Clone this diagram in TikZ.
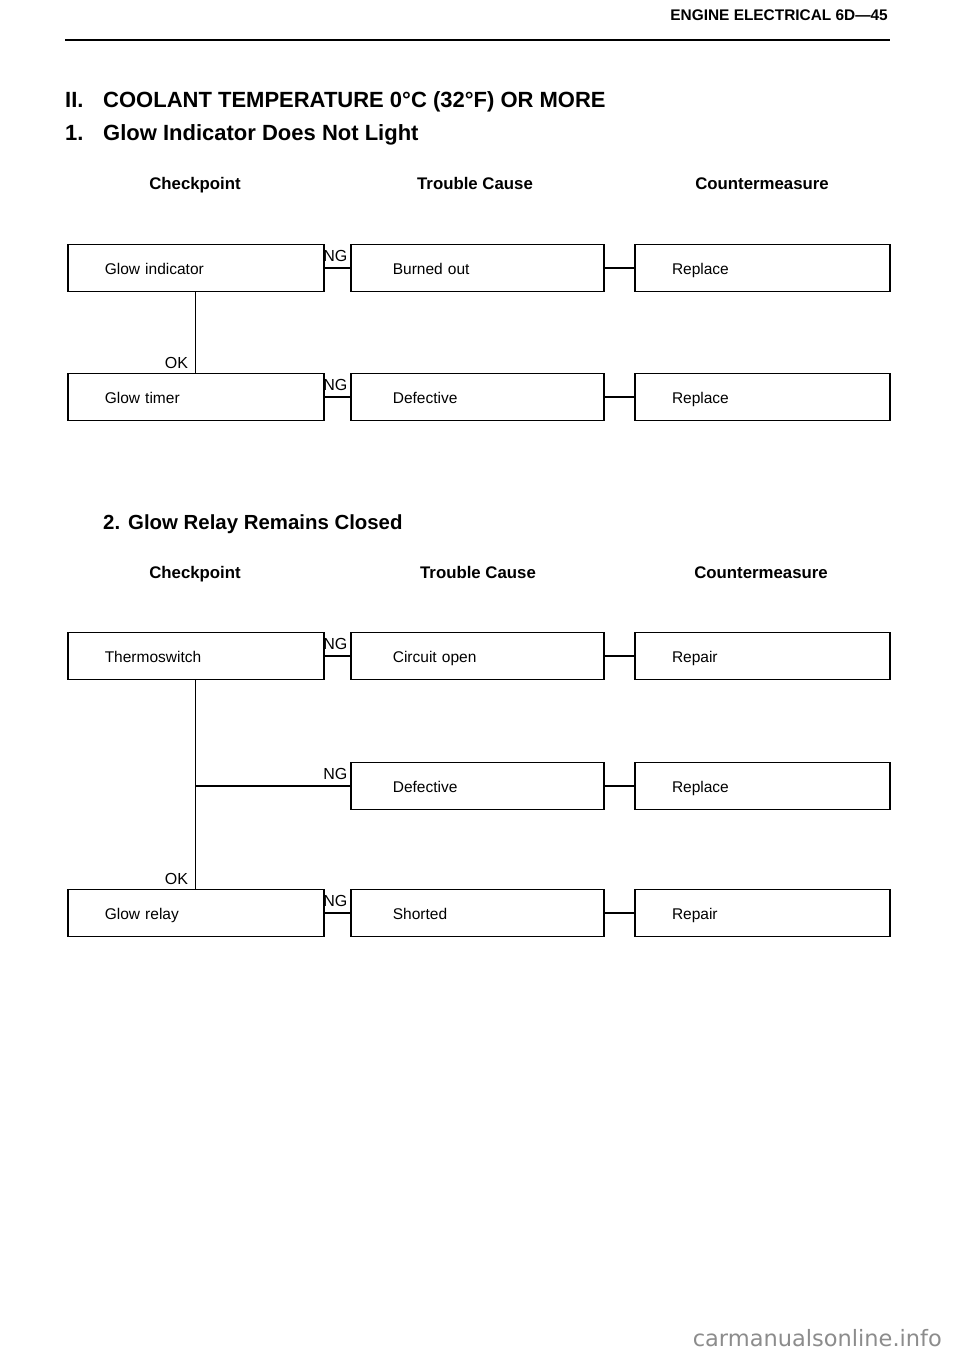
\documentclass[tikz,border=0pt]{standalone}
\usepackage{fontspec}
\setmainfont{Liberation Sans}
\newfontfamily\wmfont{DejaVu Sans}
\usetikzlibrary{calc}
\definecolor{wmgray}{HTML}{8C8C8C}
\tikzset{
  box/.style={draw, line width=1.7pt, minimum height=47pt, inner ysep=0pt, align=left,
    text height=15pt, text depth=3pt, font=\fontsize{15.5}{18}\selectfont},
  cola/.style={box, inner xsep=37pt, text width=182pt},
  colb/.style={box, inner xsep=42pt, text width=169pt},
  colc/.style={box, inner xsep=37pt, text width=181pt},
  link/.style={line width=1.3pt},
  tag/.style={font=\fontsize{16}{18}\selectfont, inner sep=0pt},
  colhead/.style={font=\bfseries\fontsize{16.8}{20}\selectfont, anchor=base, inner sep=0pt},
  titletext/.style={font=\bfseries\fontsize{22}{26}\selectfont, anchor=base west, inner sep=0pt},
}
\begin{document}
\begin{tikzpicture}[x=1pt,y=-1pt]
\useasboundingbox (0,0) rectangle (960,1356);

% page header
\node[font=\bfseries\fontsize{15.4}{18}\selectfont, anchor=base east, inner sep=0pt] (hdr) at (888,21) {ENGINE ELECTRICAL 6D—45};
\draw[line width=2.6pt] (65,40) -- (890,40);

% titles
\node[titletext] (t1n) at (65,108) {II.};
\node[titletext] (t1) at (103,108) {COOLANT TEMPERATURE 0°C (32°F) OR MORE};
\node[titletext] (t2n) at (65,141) {1.};
\node[titletext] (t2) at (103,141) {Glow Indicator Does Not Light};

% column heads section 1
\node[colhead] (h1a) at (195,190) {Checkpoint};
\node[colhead] (h1b) at (475,190) {Trouble Cause};
\node[colhead] (h1c) at (762,190) {Countermeasure};

% section 1 boxes
\node[cola] (gi) at (195.75,268) {Glow indicator};
\node[colb] (bo) at (477.35,268) {Burned out};
\node[colc] (ra) at (762.5,268) {Replace};
\node[cola] (gt) at (195.75,397) {Glow timer};
\node[colb] (dfa) at (477.35,397) {Defective};
\node[colc] (rb) at (762.5,397) {Replace};

\draw[link] (gi) -- (bo) node[tag, pos=1, anchor=south east, xshift=-2pt, yshift=6pt] {NG};
\draw[link] (bo) -- (ra);
\draw[link] (gt) -- (dfa) node[tag, pos=1, anchor=south east, xshift=-2pt, yshift=6pt] {NG};
\draw[link] (dfa) -- (rb);
\draw[link] (gi) -- (gt) node[tag, pos=1, anchor=south east, xshift=-7pt, yshift=3pt] {OK};

% section 2 title
\node[titletext, font=\bfseries\fontsize{20.4}{25}\selectfont] (t3n) at (103,529) {2.};
\node[titletext, font=\bfseries\fontsize{20.4}{25}\selectfont] (t3) at (128,529) {Glow Relay Remains Closed};

% column heads section 2
\node[colhead] (h2a) at (195,578) {Checkpoint};
\node[colhead] (h2b) at (478,578) {Trouble Cause};
\node[colhead] (h2c) at (761,578) {Countermeasure};

% section 2 boxes
\node[cola] (th) at (195.75,656) {Thermoswitch};
\node[colb] (co) at (477.35,656) {Circuit open};
\node[colc] (rpa) at (762.5,656) {Repair};
\node[colb] (dfb) at (477.35,786) {Defective};
\node[colc] (rpb) at (762.5,786) {Replace};
\node[cola] (gr) at (195.75,913) {Glow relay};
\node[colb] (sh) at (477.35,913) {Shorted};
\node[colc] (rpc) at (762.5,913) {Repair};

\coordinate (jn) at (th.south |- dfb.west);

\draw[link] (th) -- (co) node[tag, pos=1, anchor=south east, xshift=-2pt, yshift=6pt] {NG};
\draw[link] (co) -- (rpa);
\draw[link] (jn) -- (dfb.west) node[tag, pos=1, anchor=south east, xshift=-2pt, yshift=6pt] {NG};
\draw[link] (dfb) -- (rpb);
\draw[link] (gr) -- (sh) node[tag, pos=1, anchor=south east, xshift=-2pt, yshift=6pt] {NG};
\draw[link] (sh) -- (rpc);
\draw[link] (th) -- (gr) node[tag, pos=1, anchor=south east, xshift=-7pt, yshift=3pt] {OK};

% watermark
\node[font=\wmfont\fontsize{22.5}{24}\selectfont, text=wmgray, anchor=base east, inner sep=0pt] (wm) at (942,1346) {carmanualsonline.info};
\end{tikzpicture}
\end{document}
